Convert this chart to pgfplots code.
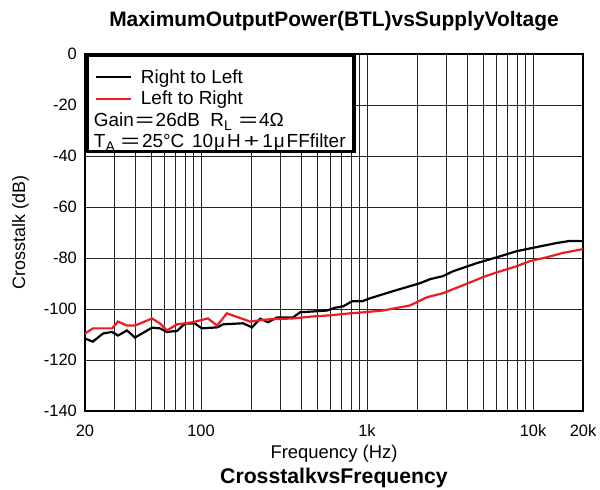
\documentclass[border=0pt]{standalone}
\usepackage{pgfplots}
\pgfplotsset{compat=1.18}
\usepackage{fontspec}
\setmainfont{Liberation Sans}
\definecolor{myred}{RGB}{237,28,36}
\pgfplotsset{
  imgA/.style={legend image code/.code={\draw[##1] (0bp,-5.5bp) -- (35bp,-5.5bp);}},
  imgB/.style={legend image code/.code={\draw[##1] (0bp,-1.5bp) -- (35bp,-1.5bp);}},
}
\newcommand{\sub}[1]{\raisebox{-3.5bp}{\fontsize{14}{14}\selectfont #1}}
\newcommand{\eq}{\scalebox{1.7}[1]{=}}
\newcommand{\myu}{\hspace{1bp}μ\hspace{2bp}}
\begin{document}
\begin{tikzpicture}
\path[use as bounding box] (0,0) rectangle (600bp,490bp);
\begin{axis}[
  at={(85bp,79bp)}, anchor=south west,
  scale only axis, width=498bp, height=357bp,
  xmode=log, xmin=20, xmax=20000, ymin=-140, ymax=0,
  xtick={20,100,1000,10000,20000},
  xticklabels={20,100,1k,10k,20k},
  minor xtick={30,40,50,60,70,80,90,200,300,400,500,600,700,800,900,2000,3000,4000,5000,6000,7000,8000,9000},
  ytick={-140,-120,...,0},
  grid=both,
  major grid style={black!85, line width=0.7bp},
  minor grid style={black!85, line width=0.7bp},
  axis line style={line width=2.5bp},
  tick style={draw=none},
  clip=false,
  /pgf/number format/assume math mode=true,
  ticklabel style={font=\fontsize{16.5}{18}\selectfont},
  xticklabel style={anchor=base, yshift=-26bp},
  yticklabel style={anchor=east, inner sep=0pt, xshift=-8bp},
  legend cell align=left,
  legend style={at={(0,1)}, anchor=north west, draw=black, line width=3.5bp, fill=white,
    inner xsep=8.5bp, inner ysep=0.5bp, row sep=0pt, column sep=8.5bp,
    font=\fontsize{19}{21}\selectfont,
    nodes={inner sep=0pt, text depth=, text height=}},
]
\addplot[black, line width=2.2bp, imgA] coordinates {
(20,-111.6) (22.3,-112.8) (25.7,-109.6) (29.1,-109) (31.6,-110.4) (35.8,-108.4) (40,-111.2)
(50.7,-107.3) (56.6,-107.6) (62.4,-109) (71.7,-108.6) (80.1,-105.7) (92,-105.7) (101,-107.6)
(125,-107.2) (136,-106) (179,-105.6) (203,-107.2) (227,-103.8) (253,-105.2) (287,-103.3)
(358,-103.3) (395,-101.3) (574,-100.6) (598,-100.2) (641,-99.5) (717,-99) (811,-97) (933,-97)
(1042,-95.8) (1433,-93) (2084,-89.9) (2395,-88.3) (2868,-87.1) (3296,-85.2) (4592,-82)
(6067,-79.7) (8000,-77.3) (10563,-75.7) (13938,-74.1) (16711,-73.3) (20000,-73.4)
};
\addlegendentry{\rule[-2bp]{0pt}{29bp}Right to Left}
\addplot[myred, line width=2.2bp, imgB] coordinates {
(20,-109.6) (22.3,-107.6) (29.1,-107.6) (31.6,-104.9) (35.8,-106.5) (40,-106.5) (50.7,-103.7)
(56.6,-105.7) (62.4,-108.4) (71.7,-106) (89,-105.2) (110,-103.7) (125,-106.5) (143,-101.7)
(197,-104.9) (250,-104.1) (358,-103.7) (473,-102.9) (598,-102.5) (789,-101.7) (946,-101.3)
(1248,-100.6) (1815,-98.6) (2296,-95.4) (2868,-93.8) (3785,-90.7) (4995,-87.5) (6067,-85.6)
(8000,-83.2) (9590,-81.2) (12134,-79.7) (15160,-78) (20000,-76.5)
};
\addlegendentry{\rule[-2bp]{0pt}{19bp}Left to Right}
\addlegendimage{empty legend}
\addlegendentry{\hspace*{-47bp}\rule[-2bp]{0pt}{20.5bp}Gain\hspace{1.5bp}\eq\hspace{1.5bp}26dB\ \ R\sub{L}\hspace{7bp}\eq\hspace{1.5bp}4Ω}
\addlegendimage{empty legend}
\addlegendentry{\hspace*{-47bp}\rule[-2bp]{0pt}{19.5bp}T\sub{A}\hspace{6bp}\eq\hspace{2.5bp}25°C\hspace{2.5bp} 10\myu H\hspace{3bp}\scalebox{1.4}[1]{+}\hspace{3bp}1\myu FFfilter}

\node[anchor=base, font=\fontsize{21}{24}\selectfont\bfseries] at ([yshift=27bp]rel axis cs:0.5,1) {MaximumOutputPower(BTL)vsSupplyVoltage};
\node[anchor=base, font=\fontsize{18.5}{21}\selectfont] at ([yshift=-47bp]rel axis cs:0.5,0) {Frequency (Hz)};
\node[anchor=base, font=\fontsize{21.3}{24}\selectfont\bfseries] at ([yshift=-72bp]rel axis cs:0.5,0) {CrosstalkvsFrequency};
\node[rotate=90, anchor=base, font=\fontsize{18}{20}\selectfont] at ([xshift=-60bp]rel axis cs:0,0.5) {Crosstalk (dB)};
\end{axis}
\end{tikzpicture}
\end{document}
